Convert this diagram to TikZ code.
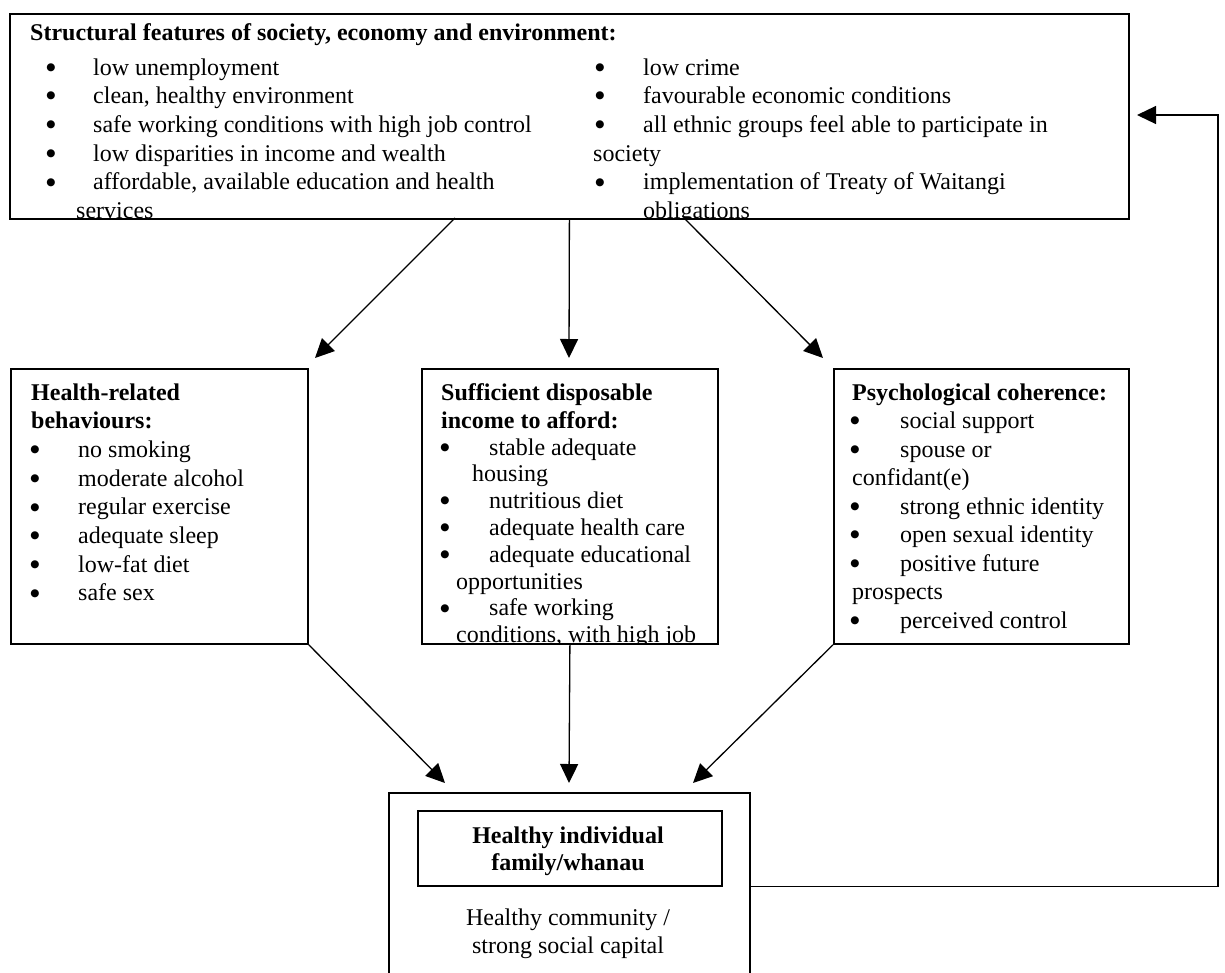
\documentclass[tikz,border=0pt]{standalone}
\usepackage{fontspec}
\setmainfont{Liberation Serif}
\newfontfamily\symfont{DejaVu Sans}
\usetikzlibrary{arrows.meta}
\begin{document}
\begin{tikzpicture}[x=1pt,y=-1pt,
  box/.style={draw, line width=1.8pt, rectangle, inner sep=0pt, anchor=north west},
  txt/.style={anchor=base west, inner sep=0pt, font=\fontsize{24}{28.7}\selectfont},
  ttl/.style={anchor=base west, inner sep=0pt, font=\fontsize{24}{28.7}\selectfont\bfseries},
  blt/.style={anchor=center, inner sep=0pt, yshift=7.5pt, font=\symfont\fontsize{10.5}{11}\selectfont},
  ctr/.style={anchor=base, inner sep=0pt, font=\fontsize{24}{28.7}\selectfont},
  ctrb/.style={anchor=base, inner sep=0pt, font=\fontsize{24}{28.7}\selectfont\bfseries},
  arr/.style={line width=1.3pt, -{Triangle[length=19pt,width=18pt]}},
]
\useasboundingbox (0,0) rectangle (1225,972);
\fill[white] (0,0) rectangle (1225,972);
\clip (0,0) rectangle (1225,972);

% ---------- boxes ----------
\node[box, minimum width=1119pt, minimum height=205pt] (top) at (9,13) {};
\node[box, minimum width=297pt, minimum height=275pt] (hlth) at (10,368) {};
\node[box, minimum width=296pt, minimum height=275pt] (inc) at (421,368) {};
\node[box, minimum width=295pt, minimum height=275pt] (psy) at (833,368) {};
\node[box, minimum width=361pt, minimum height=200pt] (outer) at (388,792) {};
\node[box, minimum width=304pt, minimum height=75pt] (inner) at (417,810) {};

% ---------- top box text ----------
\begin{scope}
\clip (top.north west) rectangle (top.south east);
\node[ttl] (ttop) at (30,40) {Structural features of society, economy and environment:};
\node[blt] (b1) at (51,75) {●};
\node[txt] (l1) at (93,75) {low unemployment};
\node[blt] (b2) at (51,103.7) {●};
\node[txt] (l2) at (93,103.7) {clean, healthy environment};
\node[blt] (b3) at (51,132.4) {●};
\node[txt] (l3) at (93,132.4) {safe working conditions with high job control};
\node[blt] (b4) at (51,161.1) {●};
\node[txt] (l4) at (93,161.1) {low disparities in income and wealth};
\node[blt] (b5) at (51,189.8) {●};
\node[txt] (l5) at (93,189.8) {affordable, available education and health};
\node[txt] (l6) at (76,218.5) {services};
\node[blt] (b7) at (600,75) {●};
\node[txt] (r1) at (643,75) {low crime};
\node[blt] (b8) at (600,103.7) {●};
\node[txt] (r2) at (643,103.7) {favourable economic conditions};
\node[blt] (b9) at (600,132.4) {●};
\node[txt] (r3) at (643,132.4) {all ethnic groups feel able to participate in};
\node[txt] (r4) at (593,161.1) {society};
\node[blt] (b10) at (600,189.8) {●};
\node[txt] (r5) at (643,189.8) {implementation of Treaty of Waitangi};
\node[txt] (r6) at (643,218.5) {obligations};
\end{scope}

% ---------- health box ----------
\node[ttl] (th1) at (31,400) {Health-related};
\node[ttl] (th2) at (31,428.7) {behaviours:};
\node[blt] (hb1) at (35,457.4) {●};
\node[txt] (h1) at (78,457.4) {no smoking};
\node[blt] (hb2) at (35,486.1) {●};
\node[txt] (h2) at (78,486.1) {moderate alcohol};
\node[blt] (hb3) at (35,514.8) {●};
\node[txt] (h3) at (78,514.8) {regular exercise};
\node[blt] (hb4) at (35,543.5) {●};
\node[txt] (h4) at (78,543.5) {adequate sleep};
\node[blt] (hb5) at (35,572.2) {●};
\node[txt] (h5) at (78,572.2) {low-fat diet};
\node[blt] (hb6) at (35,600.9) {●};
\node[txt] (h6) at (78,600.9) {safe sex};

% ---------- income box ----------
\begin{scope}
\clip (inc.north west) rectangle (inc.south east);
\node[ttl] (ti1) at (441,400) {Sufficient disposable};
\node[ttl] (ti2) at (441,428.7) {income to afford:};
\node[blt] (ib1) at (445,455) {●};
\node[txt] (i1) at (489,455) {stable adequate};
\node[txt] (i2) at (472,481.8) {housing};
\node[blt] (ib3) at (445,508.6) {●};
\node[txt] (i3) at (489,508.6) {nutritious diet};
\node[blt] (ib4) at (445,535.4) {●};
\node[txt] (i4) at (489,535.4) {adequate health care};
\node[blt] (ib5) at (445,562.2) {●};
\node[txt] (i5) at (489,562.2) {adequate educational};
\node[txt] (i6) at (456,589) {opportunities};
\node[blt] (ib7) at (445,615.8) {●};
\node[txt] (i7) at (489,615.8) {safe working};
\node[txt] (i8) at (456,642.6) {conditions, with high job};
\end{scope}

% ---------- psychological box ----------
\node[ttl] (tp1) at (852,400) {Psychological coherence:};
\node[blt] (pb1) at (855,428.5) {●};
\node[txt] (p1) at (900,428.5) {social support};
\node[blt] (pb2) at (855,457) {●};
\node[txt] (p2) at (900,457) {spouse or};
\node[txt] (p3) at (852,485.5) {confidant(e)};
\node[blt] (pb4) at (855,514) {●};
\node[txt] (p4) at (900,514) {strong ethnic identity};
\node[blt] (pb5) at (855,542.5) {●};
\node[txt] (p5) at (900,542.5) {open sexual identity};
\node[blt] (pb6) at (855,571) {●};
\node[txt] (p6) at (900,571) {positive future};
\node[txt] (p7) at (852,599.5) {prospects};
\node[blt] (pb8) at (855,628) {●};
\node[txt] (p8) at (900,628) {perceived control};

% ---------- bottom box text ----------
\node[ctrb] (o1) at (568,843) {Healthy individual};
\node[ctrb] (o2) at (568,870.5) {family/whanau};
\node[ctr] (o3) at (568,925) {Healthy community /};
\node[ctr] (o4) at (568,953) {strong social capital};

% ---------- connectors ----------
\coordinate (s1) at (455,218);
\coordinate (s3) at (684,218);
\coordinate (e1) at (315,358);
\coordinate (e2) at (569,358);
\coordinate (e3) at (823,358);
\coordinate (f1) at (445,783);
\coordinate (f2) at (569,783);
\coordinate (f3) at (693,783);
\coordinate (rt) at (1218,115);
\coordinate (fb) at (1137,115);

\draw[arr] (s1) -- (e1);
\draw[arr] (top.south) -- (e2);
\draw[arr] (s3) -- (e3);
\draw[arr] (hlth.south east) -- (f1);
\draw[arr] (inc.south) -- (f2);
\draw[arr] (psy.south west) -- (f3);
\draw[arr] (outer.east |- inner.south) -| (rt) -- (fb);
\end{tikzpicture}
\end{document}
